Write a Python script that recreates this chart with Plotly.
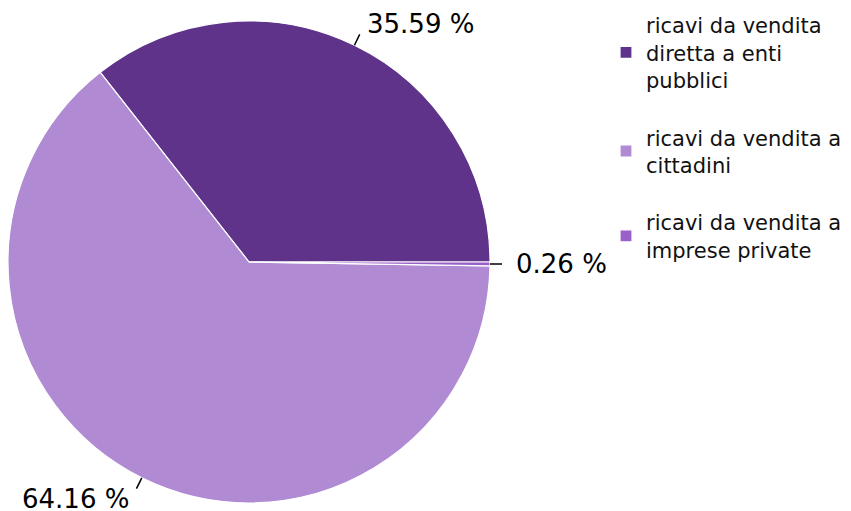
import math
import plotly.graph_objects as go

# Revenue breakdown by customer type
categories = [
    "ricavi da vendita<br>diretta a enti<br>pubblici",
    "ricavi da vendita a<br>cittadini",
    "ricavi da vendita a<br>imprese private",
]
shares = [35.59, 64.16, 0.26]
colors = ["#5e3389", "#b08bd4", "#9a5fc9"]

W, H = 851, 511
cx, cy, R = 249, 262, 241          # pie centre and radius in pixels
end_deg = 90                        # first slice ends at 3 o'clock, slices run counter-clockwise

total = sum(shares)
first_sweep = 360 * shares[0] / total

# the middle legend entry gets a blank line above and below for even spacing
legend_labels = [
    lab if i != 1 else "&nbsp;<br>" + lab + "<br>&nbsp;"
    for i, lab in enumerate(categories)
]

fig = go.Figure(
    go.Pie(
        labels=legend_labels,
        values=shares,
        sort=False,
        direction="counterclockwise",
        rotation=end_deg - first_sweep,
        marker=dict(colors=colors, line=dict(color="white", width=1.2)),
        textinfo="none",
        hoverinfo="percent",
        domain=dict(
            x=[(cx - R) / W, (cx + R) / W],
            y=[1 - (cy + R) / H, 1 - (cy - R) / H],
        ),
    )
)

# percentage labels with short leader ticks at each slice's mid-angle
angle = end_deg
shapes, annotations = [], []
for v in shares:
    sweep = 360 * v / total
    mid = math.radians(angle - sweep / 2)   # clockwise-from-top convention
    angle -= sweep
    s, c = math.sin(mid), math.cos(mid)
    r0, r1, rt = R * 1.0, R * 1.05, R * 1.1
    x0, y0 = cx + r0 * s, cy - r0 * c
    x1, y1 = cx + r1 * s, cy - r1 * c
    xt, yt = cx + rt * s, cy - rt * c
    shapes.append(dict(
        type="line", xref="paper", yref="paper",
        x0=x0 / W, y0=1 - y0 / H, x1=x1 / W, y1=1 - y1 / H,
        line=dict(color="black", width=1.5),
    ))
    annotations.append(dict(
        text=f"{v:.2f} %", xref="paper", yref="paper",
        x=xt / W, y=1 - yt / H,
        xanchor="left" if s > 0 else "right", yanchor="middle",
        showarrow=False, font=dict(size=26, color="black"),
    ))

fig.update_layout(
    width=W, height=H,
    margin=dict(l=0, r=0, t=0, b=0),
    paper_bgcolor="white", plot_bgcolor="white",
    font=dict(family="DejaVu Sans", color="#111111"),
    showlegend=True,
    legend=dict(
        x=606 / W, y=1 - 5 / H, xanchor="left", yanchor="top",
        font=dict(size=21, color="#111111"),
        bgcolor="rgba(0,0,0,0)",
    ),
    shapes=shapes,
    annotations=annotations,
)

fig.write_html("out.html")
